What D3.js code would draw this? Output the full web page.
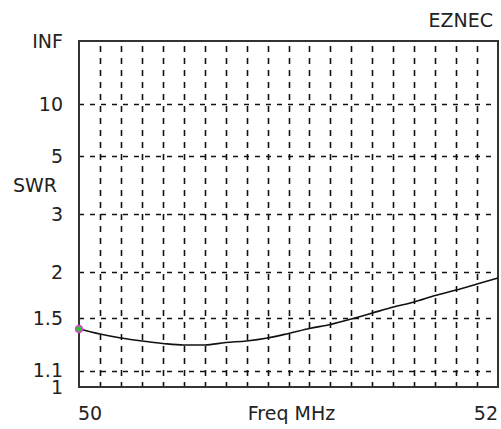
<!DOCTYPE html>
<html>
<head>
<style>
	body { margin: 0; background: #fff; }
	text { font-family: "DejaVu Sans", Verdana, sans-serif; font-size: 19px; fill: #222; }
</style>
<script src="https://d3js.org/d3.v7.min.js"></script>
</head>
<body>
<div id="chart"></div>
<script>
	// SWR sweep
	const freqs = [50.0, 50.1, 50.2, 50.3, 50.4, 50.5, 50.6, 50.7, 50.8, 50.9, 51.0,
	               51.1, 51.2, 51.3, 51.4, 51.5, 51.6, 51.7, 51.8, 51.9, 52.0];
	const swr = [1.403, 1.362, 1.330, 1.307, 1.288, 1.276, 1.276, 1.295, 1.307, 1.330, 1.366,
	             1.407, 1.441, 1.489, 1.544, 1.601, 1.651, 1.719, 1.779, 1.848, 1.920];
	const swrTicks = [1, 1.1, 1.5, 2, 3, 5, 10, Infinity];
	const swrLabels = ["1", "1.1", "1.5", "2", "3", "5", "10", "INF"];
	const freqLabels = ["50", "52"];

	const width = 501, height = 429;
	const plotLeft = 79, plotRight = 498, plotTop = 41, plotBottom = 387;

	var svg = d3.select('#chart').append('svg')
	            .attr("width", width)
	            .attr("height", height)
	            .style("display", "block");

	var x = d3.scaleLinear().domain([50, 52]).range([plotLeft, plotRight]);
	// EZNEC plots SWR on a reflection coefficient scale, INF at the top
	var rho = d3.scaleLinear().domain([0, 1]).range([plotBottom, plotTop]);
	function y(s) {
		if (!isFinite(s)) return rho(1);
		return rho((s - 1) / (s + 1));
	}

	// vertical grid
	var gridX = x.ticks(20).slice(1, -1);
	svg.selectAll("line.vgrid")
	   .data(gridX)
	   .enter()
	   .append("line")
	   .attr("x1", d => Math.round(x(d)) + 0.5)
	   .attr("x2", d => Math.round(x(d)) + 0.5)
	   .attr("y1", plotTop + 5)
	   .attr("y2", plotBottom)
	   .attr("stroke", "#111")
	   .attr("stroke-width", 1.6)
	   .attr("stroke-dasharray", "6,6");

	// horizontal grid
	svg.selectAll("line.hgrid")
	   .data(swrTicks.slice(1, -1))
	   .enter()
	   .append("line")
	   .attr("x1", plotLeft)
	   .attr("x2", plotRight)
	   .attr("y1", d => Math.round(y(d)) + 0.5)
	   .attr("y2", d => Math.round(y(d)) + 0.5)
	   .attr("stroke", "#111")
	   .attr("stroke-width", 1.6)
	   .attr("stroke-dasharray", "5,6");

	// frame
	svg.append("rect")
	   .attr("x", plotLeft)
	   .attr("y", plotTop)
	   .attr("width", plotRight - plotLeft)
	   .attr("height", plotBottom - plotTop)
	   .attr("fill", "none")
	   .attr("stroke", "#333")
	   .attr("stroke-width", 2);

	// y labels
	svg.selectAll("text.ylab")
	   .data(swrTicks)
	   .enter()
	   .append("text")
	   .text((d, i) => swrLabels[i])
	   .attr("x", 63)
	   .attr("y", d => y(d))
	   .attr("dy", "0.36em")
	   .attr("text-anchor", "end");

	svg.append("text").text("SWR")
	   .attr("x", 57).attr("y", 185).attr("dy", "0.36em")
	   .attr("text-anchor", "end");

	// x labels
	svg.append("text").text(freqLabels[0])
	   .attr("x", x(50) - 1).attr("y", 420);
	svg.append("text").text(freqLabels[1])
	   .attr("x", x(52)).attr("y", 420)
	   .attr("text-anchor", "end");
	svg.append("text").text("Freq MHz")
	   .attr("x", (plotLeft + plotRight) / 2 + 3).attr("y", 420)
	   .attr("text-anchor", "middle");

	svg.append("text").text("EZNEC")
	   .attr("x", 493).attr("y", 27)
	   .attr("text-anchor", "end");

	// SWR curve
	var line = d3.line()
	             .x((d, i) => x(freqs[i]))
	             .y(d => y(d))
	             .curve(d3.curveMonotoneX);
	svg.append("path")
	   .datum(swr)
	   .attr("d", line)
	   .attr("fill", "none")
	   .attr("stroke", "#111")
	   .attr("stroke-width", 1.6);

	// source marker at start frequency
	svg.append("circle")
	   .attr("cx", x(freqs[0]))
	   .attr("cy", y(swr[0]))
	   .attr("r", 3.5)
	   .attr("fill", "#2c2")
	   .attr("stroke", "#e3e")
	   .attr("stroke-width", 1.5);
</script>
</body>
</html>
